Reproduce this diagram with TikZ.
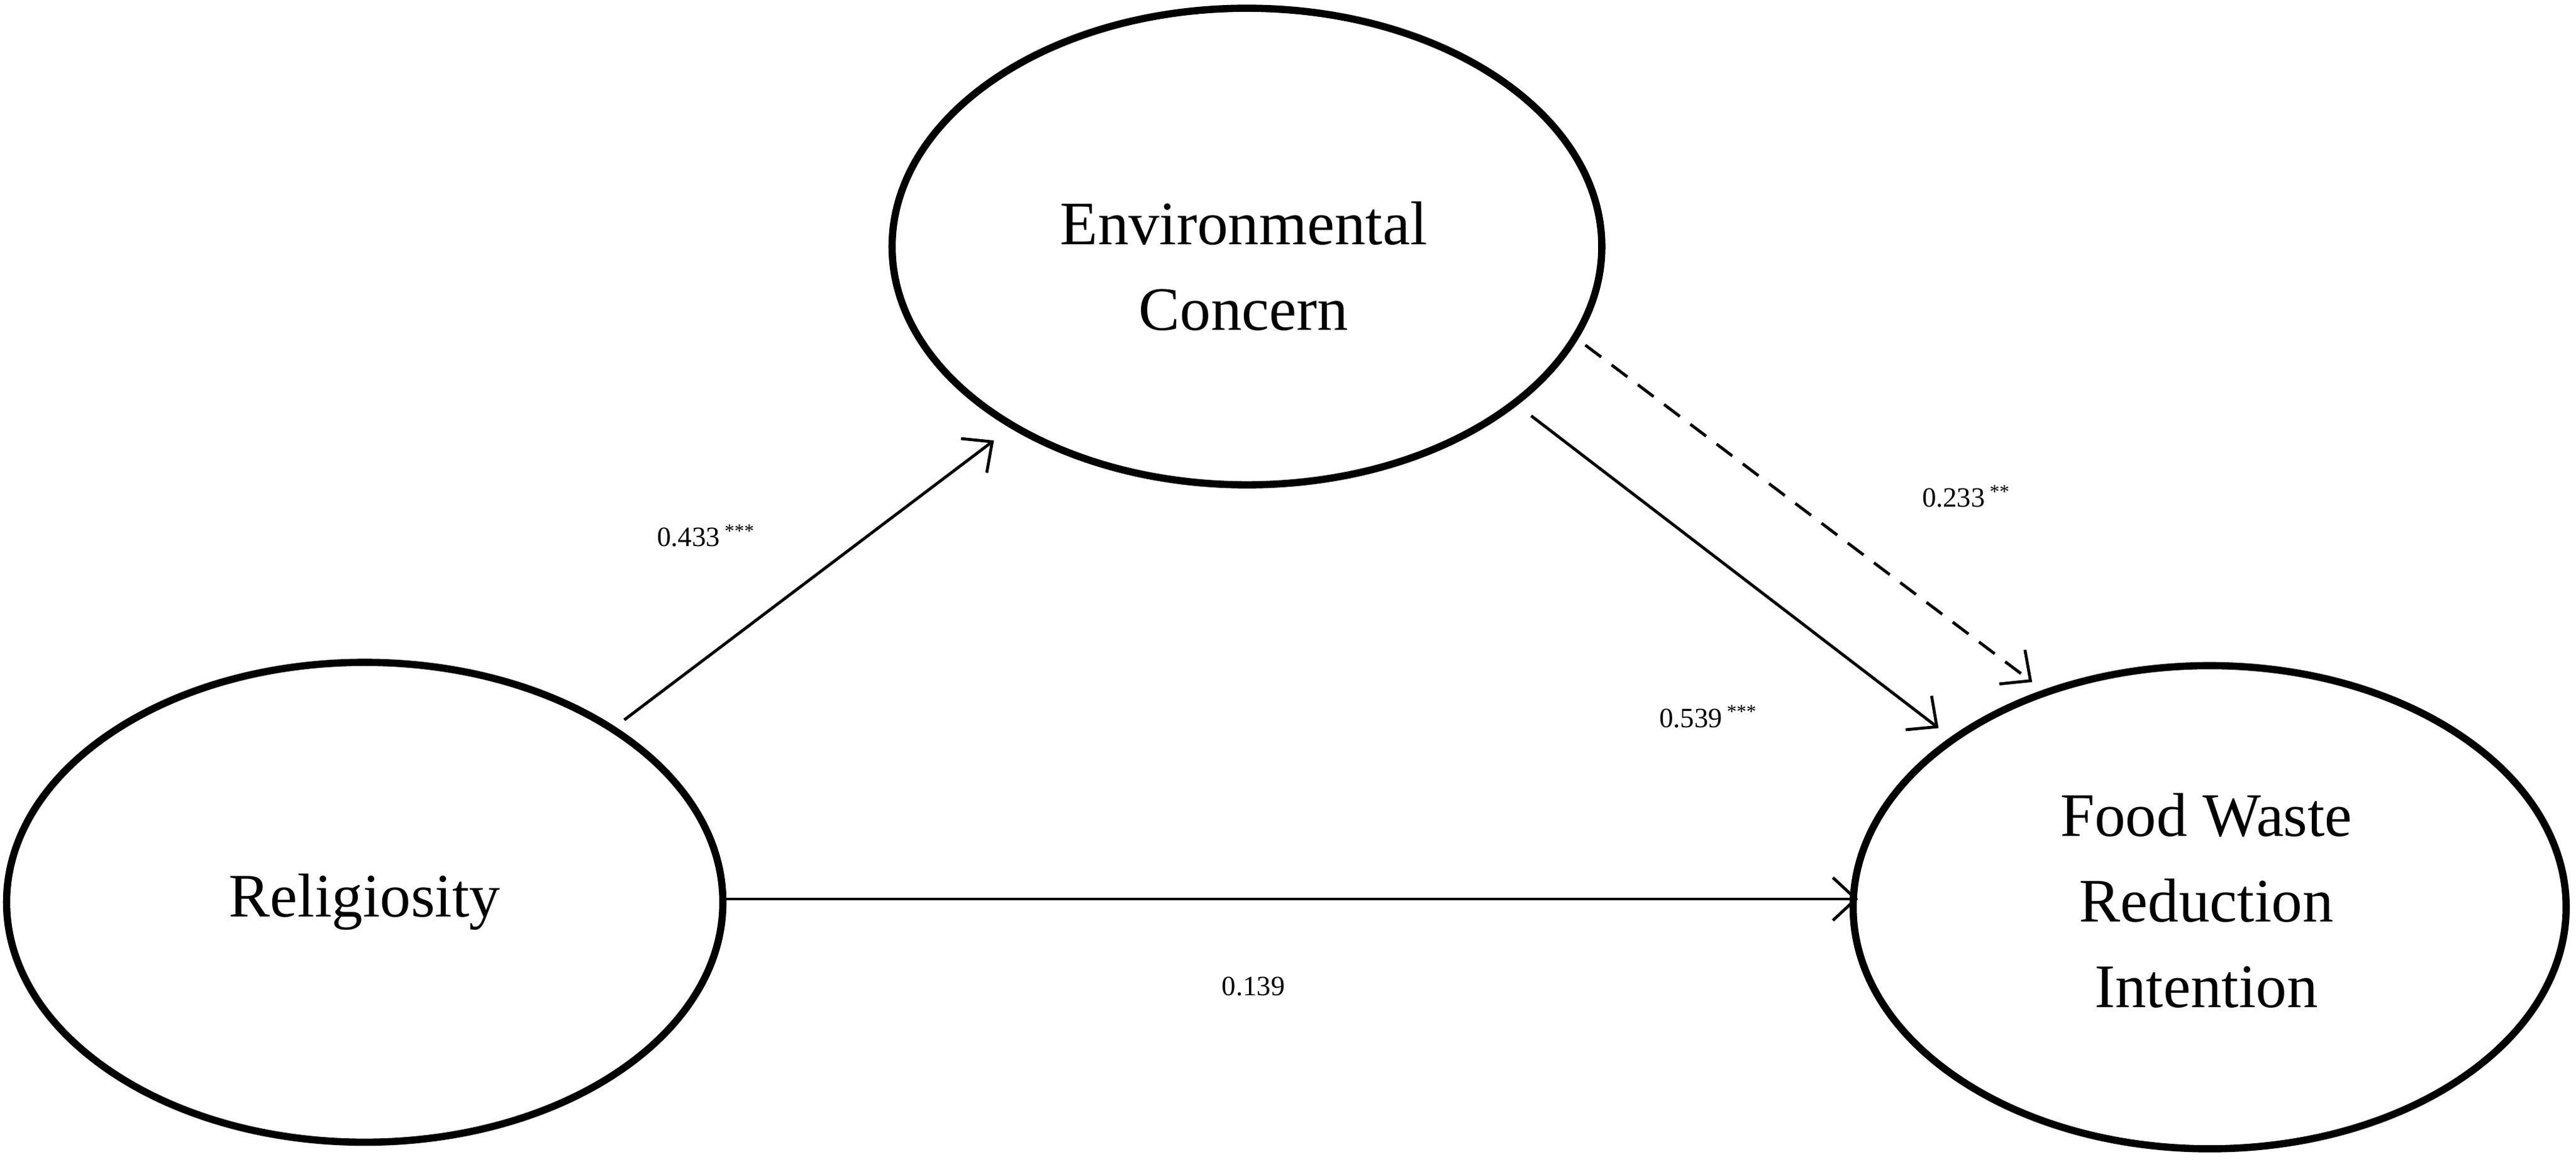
\documentclass[tikz,border=0pt]{standalone}
\usepackage{fontspec}
\setmainfont{Liberation Serif}
\usetikzlibrary{arrows.meta}
\begin{document}
\begin{tikzpicture}[x=0.5pt,y=-0.5pt,
  big/.style={font=\fontsize{18.8}{26}\selectfont,align=center},
  path/.style={line width=0.9pt,-{Straight Barb[length=7pt,width=13pt,line width=0.9pt]}},
  lbl/.style={font=\fontsize{8.5}{10}\selectfont}]
\useasboundingbox (0,0) rectangle (1568,707);
\draw[line width=2.2pt] (759,150) ellipse [x radius=216, y radius=145];
\draw[line width=2.2pt] (222,549) ellipse [x radius=218, y radius=146];
\draw[line width=2.2pt] (1345,552) ellipse [x radius=217, y radius=147];
\node[big] (ec) at (757,162) {Environmental\\Concern};
\node[big] (rel) at (222,549) {Religiosity};
\node[big] (fw) at (1343,548) {Food Waste\\Reduction\\Intention};
\coordinate (a1) at (380,438); \coordinate (a2) at (605,268);
\coordinate (b1) at (440,547); \coordinate (b2) at (1131,547);
\coordinate (c1) at (932,253); \coordinate (c2) at (1180,443);
\coordinate (d1) at (965,210); \coordinate (d2) at (1237,415);
\draw[path] (a1) -- (a2);
\draw[path] (b1) -- (b2);
\draw[path] (c1) -- (c2);
\draw[path,dashed,dash pattern=on 6pt off 4pt] (d1) -- (d2);
\node[lbl] (l1) at (430,326) {0.433\,\textsuperscript{***}};
\node[lbl] (l2) at (1197,302) {0.233\,\textsuperscript{**}};
\node[lbl] (l3) at (1040,436) {0.539\,\textsuperscript{***}};
\node[lbl] (l4) at (763,600) {0.139};
\end{tikzpicture}
\end{document}
